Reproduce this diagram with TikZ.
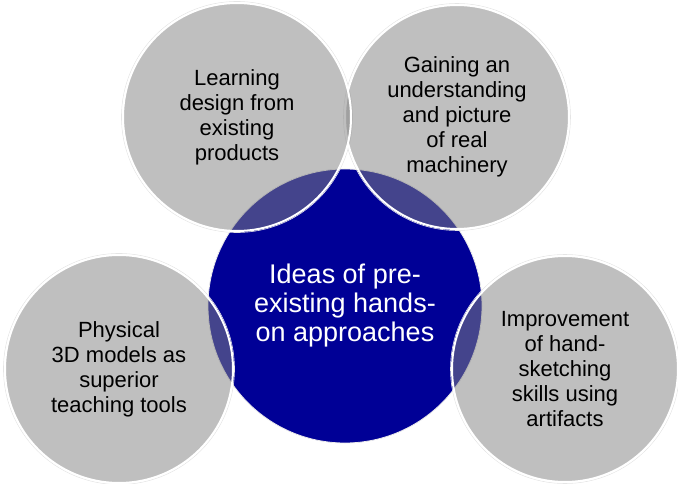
\documentclass[tikz,border=0pt]{standalone}
\usepackage{fontspec}
\setmainfont{Liberation Sans}
\definecolor{navy}{RGB}{0,0,150}
\definecolor{venngray}{RGB}{132,132,132}
\begin{document}
\begin{tikzpicture}[x=1pt,y=-1pt,
  outer/.style={circle,inner sep=0pt,fill=venngray,fill opacity=0.52,text opacity=1,
    draw=white,draw opacity=1,line width=2pt,align=center,text=black,
    font=\fontsize{22}{25}\selectfont},
  halo/.style={draw=black!10,line width=0.6pt},
  core/.style={circle,inner sep=0pt,fill=navy,draw=black!8,line width=0.8pt,align=center,
    text=white,font=\fontsize{27}{29}\selectfont}]
\useasboundingbox (0,0) rectangle (678,484);
% central circle
\node[core,minimum size=274pt] (c) at (345,306) {};
% halos
\draw[halo] (237,117) circle (115.5pt);
\draw[halo] (457,117) circle (113.5pt);
\draw[halo] (119,369) circle (115.5pt);
\draw[halo] (565,369) circle (114.5pt);
% outer circles
\node[outer,minimum size=224pt] (tr) at (457,117) {Gaining an\\understanding\\and picture\\of real\\machinery};
\node[outer,minimum size=228pt] (tl) at (237,117) {Learning\\design from\\existing\\products};
\node[outer,minimum size=228pt] (bl) at (119,369) {Physical\\3D models as\\superior\\teaching tools};
\node[outer,minimum size=226pt] (br) at (565,369) {Improvement\\of hand-\\sketching\\skills using\\artifacts};
% central text
\node[align=center,text=white,font=\fontsize{27}{29}\selectfont] (ct) at (345,306) {Ideas of pre-\\existing hands-\\on approaches};
\end{tikzpicture}
\end{document}
